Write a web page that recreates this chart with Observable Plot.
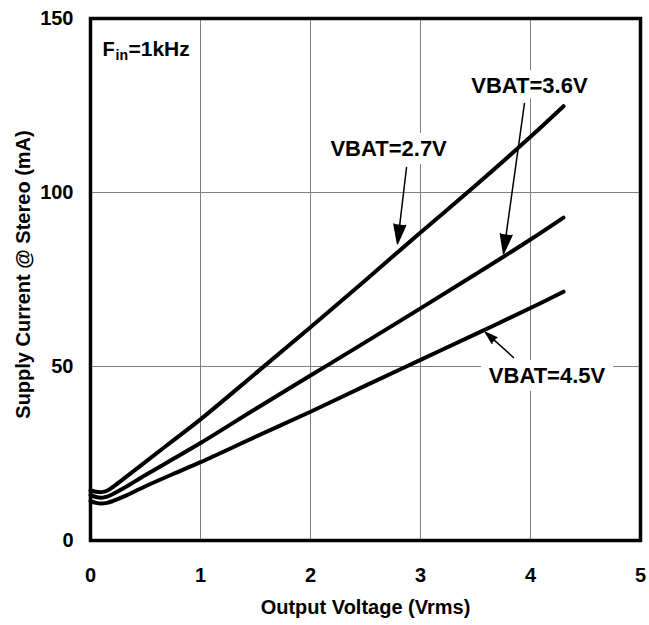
<!DOCTYPE html>
<html>
<head>
<meta charset="utf-8">
<script src="https://cdn.jsdelivr.net/npm/d3@7"></script>
<script src="https://cdn.jsdelivr.net/npm/@observablehq/plot@0.6"></script>
<style>
  html, body { margin: 0; padding: 0; background: white; }
</style>
</head>
<body>
<div id="chart"></div>
<script>
// Output voltage (Vrms)
const voltage = [0, 0.05, 0.1, 0.15, 0.2, 0.3, 0.5, 0.75, 1, 1.5, 2, 2.5, 3, 3.5, 4, 4.3];
// Supply current (mA) per battery voltage
const vbat27 = [14.4, 14.0, 13.9, 14.3, 15.3, 17.7, 22.6, 28.7, 34.8, 48, 61.3, 74.8, 88.5, 102, 116, 124.8];
const vbat36 = [13.1, 12.5, 12.3, 12.6, 13.3, 15.0, 18.8, 23.4, 28, 37.8, 47.4, 57, 66.7, 76.5, 86.5, 92.8];
const vbat45 = [11.4, 10.8, 10.6, 10.8, 11.3, 12.6, 15.6, 19.1, 22.5, 29.8, 37, 44.5, 51.9, 59.3, 66.8, 71.5];
const seriesNames = ["VBAT=2.7V", "VBAT=3.6V", "VBAT=4.5V"];

const xTicks = [0, 1, 2, 3, 4, 5];
const yTicks = [0, 50, 100, 150];

// Annotation labels and arrows (data coordinates)
const labelText = ["VBAT=2.7V", "VBAT=3.6V", "VBAT=4.5V"];
const labelX = [2.71, 3.99, 4.15];
const labelY = [112.4, 130.7, 47.4];
const arrowX1 = [2.873, 3.945, 3.845];
const arrowY1 = [107.2, 125.6, 52.6];
const arrowX2 = [2.791, 3.755, 3.591];
const arrowY2 = [85.3, 82.5, 59.8];

const xTitle = "Output Voltage (Vrms)";
const yTitle = "Supply Current @ Stereo (mA)";

const lineData = [];
[vbat27, vbat36, vbat45].forEach((arr, k) => {
  arr.forEach((v, i) => lineData.push({series: seriesNames[k], x: voltage[i], y: v}));
});
const labels = labelText.map((t, i) => ({t, x: labelX[i], y: labelY[i]}));
const arrows = arrowX1.map((_, i) => ({x1: arrowX1[i], y1: arrowY1[i], x2: arrowX2[i], y2: arrowY2[i]}));

const chart = Plot.plot({
  width: 649,
  height: 625,
  marginLeft: 90,
  marginRight: 9,
  marginTop: 18,
  marginBottom: 85,
  style: {
    fontFamily: "'Liberation Sans', Arial, sans-serif",
    fontSize: "20px",
    fontWeight: "bold",
    background: "white",
    color: "black"
  },
  x: {domain: [0, 5]},
  y: {domain: [0, 150]},
  marks: [
    Plot.gridX(xTicks.slice(1, -1), {stroke: "#7f7f7f", strokeOpacity: 1, strokeWidth: 1}),
    Plot.gridY(yTicks.slice(1, -1), {stroke: "#7f7f7f", strokeOpacity: 1, strokeWidth: 1}),
    Plot.axisX(xTicks, {tickSize: 0, tickPadding: 27, fontSize: 20, fontWeight: "bold", label: null}),
    Plot.axisY(yTicks, {tickSize: 0, tickPadding: 17, fontSize: 20, fontWeight: "bold", label: null}),
    Plot.line(lineData, {x: "x", y: "y", z: "series", stroke: "black", strokeWidth: 4, curve: "catmull-rom"}),
    Plot.text(labels, {x: "x", y: "y", text: "t", fontSize: 22, fontWeight: "bold", fill: "black",
      stroke: "white", strokeWidth: 16, paintOrder: "stroke", textAnchor: "middle", lineAnchor: "middle"}),
    Plot.arrow(arrows, {x1: "x1", y1: "y1", x2: "x2", y2: "y2", stroke: "black", fill: "black",
      strokeWidth: 1.5, headLength: 20, headAngle: 34}),
    Plot.text(["F"], {frameAnchor: "top-left", dx: 12, dy: 37, lineAnchor: "bottom", textAnchor: "start", fontSize: 20, fontWeight: "bold"}),
    Plot.text(["in"], {frameAnchor: "top-left", dx: 25, dy: 41, lineAnchor: "bottom", textAnchor: "start", fontSize: 14, fontWeight: "bold"}),
    Plot.text(["=1kHz"], {frameAnchor: "top-left", dx: 38, dy: 37, lineAnchor: "bottom", textAnchor: "start", fontSize: 21, fontWeight: "bold"}),
    Plot.text([xTitle], {frameAnchor: "bottom", dy: 67, lineAnchor: "middle", textAnchor: "middle", fontSize: 20, fontWeight: "bold"}),
    Plot.text([yTitle], {frameAnchor: "left", dx: -67, dy: -5, rotate: -90, lineAnchor: "middle", textAnchor: "middle", fontSize: 20, fontWeight: "bold"}),
    Plot.frame({stroke: "black", strokeWidth: 3.5})
  ]
});
document.getElementById("chart").appendChild(chart);
</script>
</body>
</html>
